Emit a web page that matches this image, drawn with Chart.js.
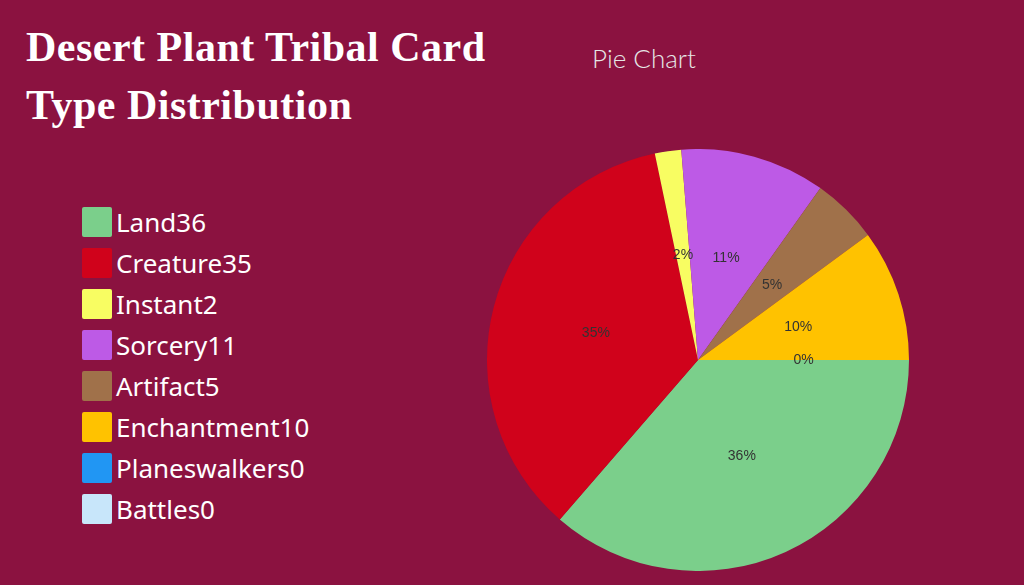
<!DOCTYPE html>
<html><head><meta charset="utf-8">
<script src="https://cdn.jsdelivr.net/npm/chart.js@4"></script>
<style>
body{margin:0;width:1024px;height:585px;background:#8b1240;position:relative;overflow:hidden;font-family:"Open Sans",sans-serif}
#t{position:absolute;left:26px;top:18px;color:#fff;font-family:"Liberation Serif",serif;font-size:42px;line-height:58px;font-weight:bold;letter-spacing:0.5px}
#st{position:absolute;left:592px;top:42px;color:#e6e6e6;font-family:Lato,sans-serif;font-weight:300;font-size:26px}
#lg{position:absolute;left:82px;top:201px}
.r{height:41px;display:flex;align-items:center;color:#fff;font-size:26px;font-family:"Noto Sans",sans-serif}
.s{width:30px;height:30px;margin-right:4px;border-radius:2px}
#w{position:absolute;left:487px;top:149px;width:422px;height:422px}
</style></head><body>
<div id="t">Desert Plant Tribal Card<br>Type Distribution</div>
<div id="st">Pie Chart</div>
<div id="lg"></div>
<div id="w"><canvas id="c"></canvas></div>
<script>
const categories=["Land","Creature","Instant","Sorcery","Artifact","Enchantment","Planeswalkers","Battles"];
const values=[36,35,2,11,5,10,0,0];
const colors=["#7bcf8b","#d0021b","#f8fd62","#bd5ae6","#a0714a","#ffc200","#2196f3","#c8e6fa"];
const lg=document.getElementById('lg');
categories.forEach((c,i)=>{lg.innerHTML+=`<div class="r"><div class="s" style="background:${colors[i]}"></div>${c}${values[i]}</div>`;});
const total=values.reduce((a,b)=>a+b,0);
const lbl={id:'lbl',afterDatasetsDraw(ch){const x=ch.ctx;x.save();x.font='14px "Liberation Sans",Arial';x.fillStyle='#333';x.textAlign='center';x.textBaseline='middle';
ch.getDatasetMeta(0).data.forEach((a,i)=>{if(i>=6)return;const p=a.getCenterPoint();x.fillText(Math.round(values[i]/total*100)+'%',p.x,p.y);});
const a=ch.getDatasetMeta(0).data[6];const p=a.getCenterPoint();x.fillText('0%',p.x,p.y);x.restore();}};
new Chart(document.getElementById('c'),{type:'pie',data:{labels:categories,datasets:[{data:values,backgroundColor:colors,borderWidth:0}]},
options:{responsive:true,maintainAspectRatio:false,animation:false,rotation:90,layout:{padding:0},plugins:{legend:{display:false},tooltip:{enabled:false}}},plugins:[lbl]});
</script></body></html>
